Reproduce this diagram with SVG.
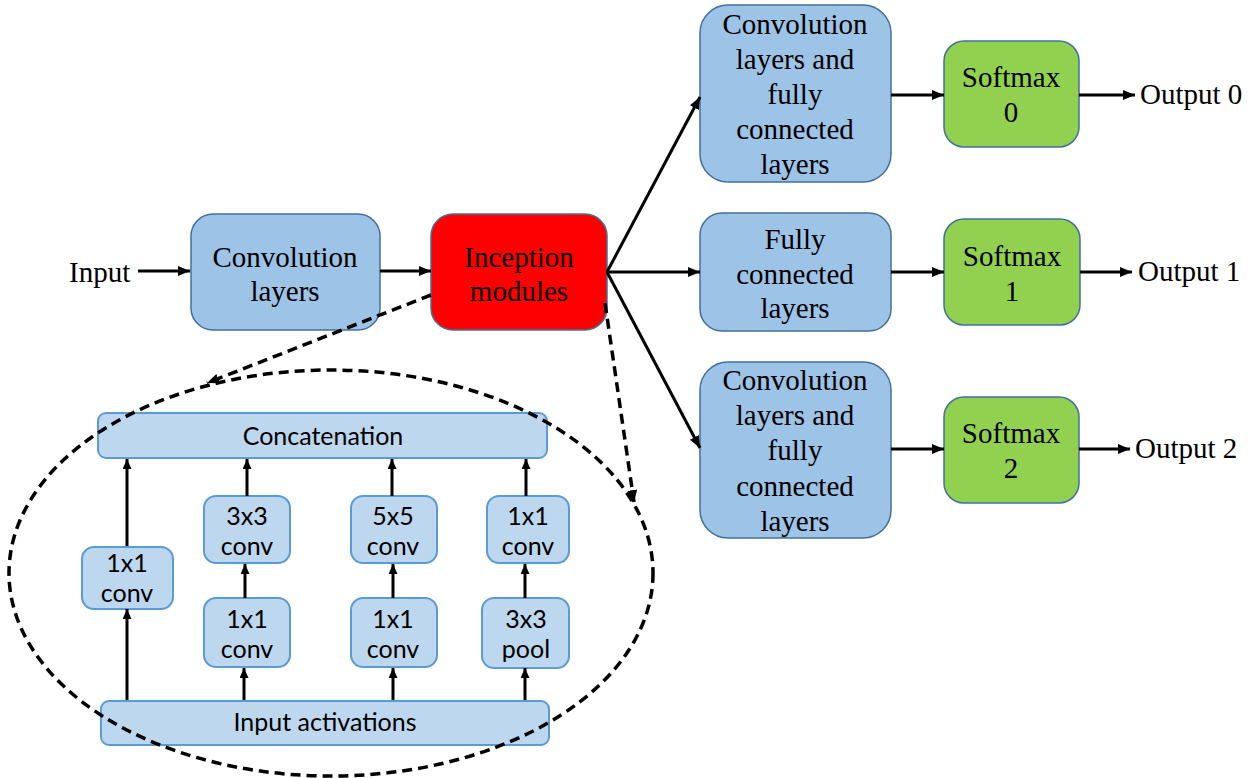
<svg xmlns="http://www.w3.org/2000/svg" width="1253" height="778" viewBox="0 0 1253 778">
  <defs>
    <marker id="ah" markerUnits="userSpaceOnUse" markerWidth="14" markerHeight="12" refX="12" refY="5" orient="auto">
      <path d="M0,0 L12,5 L0,10 Z" fill="#000"/>
    </marker>
    <marker id="ahs" markerUnits="userSpaceOnUse" markerWidth="12" markerHeight="12" refX="10" refY="4.5" orient="auto">
      <path d="M0,0 L10,4.5 L0,9 Z" fill="#000"/>
    </marker>
  </defs>
  <style>
    .blk { fill: #9DC3E6; stroke: #41719C; stroke-width: 1.5; }
    .red { fill: #FF0000; stroke: #41719C; stroke-width: 1.5; }
    .grn { fill: #92D050; stroke: #41719C; stroke-width: 1.5; }
    .inn { fill: #BDD7EE; stroke: #5B9BD5; stroke-width: 2; }
    .serif { font-family: "Liberation Serif", "Times New Roman", serif; font-size: 29px; fill: #000; }
    .sans { font-family: Lato, "Open Sans", sans-serif; font-size: 25px; fill: #000; }
    .mid { text-anchor: middle; }
    .arr { stroke: #000; stroke-width: 3; fill: none; marker-end: url(#ah); }
    .arrs { stroke: #000; stroke-width: 3; fill: none; marker-end: url(#ahs); }
    .dash { stroke: #000; stroke-width: 3.5; fill: none; stroke-dasharray: 10 6; }
  </style>
  <rect width="1253" height="778" fill="#fff"/>

  <g id="input-label">
    <text class="serif" x="69" y="282">Input</text>
  </g>

  <g id="conv-layers">
    <rect class="blk" x="191" y="214" width="189" height="116" rx="22"/>
    <text class="serif mid" x="285" y="267">Convolution</text>
    <text class="serif mid" x="285" y="301">layers</text>
  </g>

  <g id="inception">
    <rect class="red" x="431" y="214" width="176" height="116" rx="22"/>
    <text class="serif mid" x="519" y="267">Inception</text>
    <text class="serif mid" x="519" y="301">modules</text>
  </g>

  <g id="branch0">
    <rect class="blk" x="700" y="5" width="191" height="177" rx="28"/>
    <text class="serif mid" x="795" y="34">Convolution</text>
    <text class="serif mid" x="795" y="69">layers and</text>
    <text class="serif mid" x="795" y="104">fully</text>
    <text class="serif mid" x="795" y="139">connected</text>
    <text class="serif mid" x="795" y="174">layers</text>
  </g>

  <g id="branch1">
    <rect class="blk" x="700" y="213" width="191" height="118" rx="22"/>
    <text class="serif mid" x="795" y="249">Fully</text>
    <text class="serif mid" x="795" y="284">connected</text>
    <text class="serif mid" x="795" y="318">layers</text>
  </g>

  <g id="branch2">
    <rect class="blk" x="700" y="362" width="191" height="176" rx="28"/>
    <text class="serif mid" x="795" y="390">Convolution</text>
    <text class="serif mid" x="795" y="425">layers and</text>
    <text class="serif mid" x="795" y="460">fully</text>
    <text class="serif mid" x="795" y="496">connected</text>
    <text class="serif mid" x="795" y="531">layers</text>
  </g>

  <g id="softmax0">
    <rect class="grn" x="944" y="41" width="135" height="106" rx="20"/>
    <text class="serif mid" x="1011" y="87">Softmax</text>
    <text class="serif mid" x="1011" y="122">0</text>
  </g>
  <g id="softmax1">
    <rect class="grn" x="944" y="219" width="136" height="106" rx="20"/>
    <text class="serif mid" x="1012" y="266">Softmax</text>
    <text class="serif mid" x="1012" y="301">1</text>
  </g>
  <g id="softmax2">
    <rect class="grn" x="944" y="397" width="135" height="106" rx="20"/>
    <text class="serif mid" x="1011" y="443">Softmax</text>
    <text class="serif mid" x="1011" y="478">2</text>
  </g>

  <g id="outputs">
    <text class="serif" x="1140" y="104">Output 0</text>
    <text class="serif" x="1138" y="281">Output 1</text>
    <text class="serif" x="1135" y="458">Output 2</text>
  </g>

  <g id="concatenation">
    <rect class="inn" x="98" y="413" width="449" height="45" rx="8"/>
    <text class="sans mid" x="323" y="445">Concatenation</text>
  </g>

  <g id="input-activations">
    <rect class="inn" x="101" y="701" width="448" height="44" rx="8"/>
    <text class="sans mid" x="325" y="731">Input activations</text>
  </g>

  <g id="b1-conv1x1">
    <rect class="inn" x="82" y="547" width="91" height="62" rx="12"/>
    <text class="sans mid" x="127" y="572">1x1</text>
    <text class="sans mid" x="127" y="602">conv</text>
  </g>
  <g id="b2-conv3x3">
    <rect class="inn" x="204" y="496" width="86" height="67" rx="12"/>
    <text class="sans mid" x="247" y="525">3x3</text>
    <text class="sans mid" x="247" y="555">conv</text>
  </g>
  <g id="b2-conv1x1">
    <rect class="inn" x="204" y="598" width="86" height="69" rx="12"/>
    <text class="sans mid" x="247" y="628">1x1</text>
    <text class="sans mid" x="247" y="658">conv</text>
  </g>
  <g id="b3-conv5x5">
    <rect class="inn" x="351" y="496" width="86" height="67" rx="12"/>
    <text class="sans mid" x="393" y="525">5x5</text>
    <text class="sans mid" x="393" y="555">conv</text>
  </g>
  <g id="b3-conv1x1">
    <rect class="inn" x="351" y="598" width="86" height="69" rx="12"/>
    <text class="sans mid" x="393" y="628">1x1</text>
    <text class="sans mid" x="393" y="658">conv</text>
  </g>
  <g id="b4-conv1x1">
    <rect class="inn" x="487" y="496" width="82" height="67" rx="12"/>
    <text class="sans mid" x="528" y="525">1x1</text>
    <text class="sans mid" x="528" y="555">conv</text>
  </g>
  <g id="b4-pool3x3">
    <rect class="inn" x="482" y="598" width="87" height="70" rx="12"/>
    <text class="sans mid" x="526" y="628">3x3</text>
    <text class="sans mid" x="526" y="658">pool</text>
  </g>

  <!-- connectors, drawn last so the dashed callout lies over the module boxes -->
  <g id="connectors">
    <line class="arr" x1="138" y1="271" x2="190" y2="271"/>
    <line class="arr" x1="380" y1="271" x2="431" y2="271"/>
    <line class="arr" x1="607" y1="272" x2="700" y2="97"/>
    <line class="arr" x1="607" y1="272" x2="700" y2="272"/>
    <line class="arr" x1="607" y1="272" x2="700" y2="448"/>
    <line class="arr" x1="891" y1="95" x2="944" y2="95"/>
    <line class="arr" x1="1079" y1="95" x2="1135" y2="95"/>
    <line class="arr" x1="891" y1="272" x2="944" y2="272"/>
    <line class="arr" x1="1080" y1="272" x2="1132" y2="272"/>
    <line class="arr" x1="891" y1="449" x2="944" y2="449"/>
    <line class="arr" x1="1079" y1="449" x2="1130" y2="449"/>
    <!-- zoom-in callout -->
    <ellipse class="dash" cx="331" cy="573" rx="322" ry="203"/>
    <line class="dash" x1="431" y1="295" x2="207" y2="383" marker-end="url(#ah)"/>
    <line class="dash" x1="605" y1="303" x2="634" y2="502" marker-end="url(#ah)"/>
    <!-- inception branches -->
    <line class="arrs" x1="127" y1="700" x2="127" y2="609"/>
    <line class="arrs" x1="127" y1="546" x2="127" y2="459"/>
    <line class="arrs" x1="244" y1="700" x2="244" y2="668"/>
    <line class="arrs" x1="245" y1="598" x2="245" y2="564"/>
    <line class="arrs" x1="247" y1="496" x2="247" y2="459"/>
    <line class="arrs" x1="393" y1="700" x2="393" y2="668"/>
    <line class="arrs" x1="393" y1="598" x2="393" y2="564"/>
    <line class="arrs" x1="392" y1="496" x2="392" y2="459"/>
    <line class="arrs" x1="525" y1="700" x2="525" y2="668"/>
    <line class="arrs" x1="525" y1="598" x2="525" y2="564"/>
    <line class="arrs" x1="526" y1="496" x2="526" y2="459"/>
  </g>
</svg>
